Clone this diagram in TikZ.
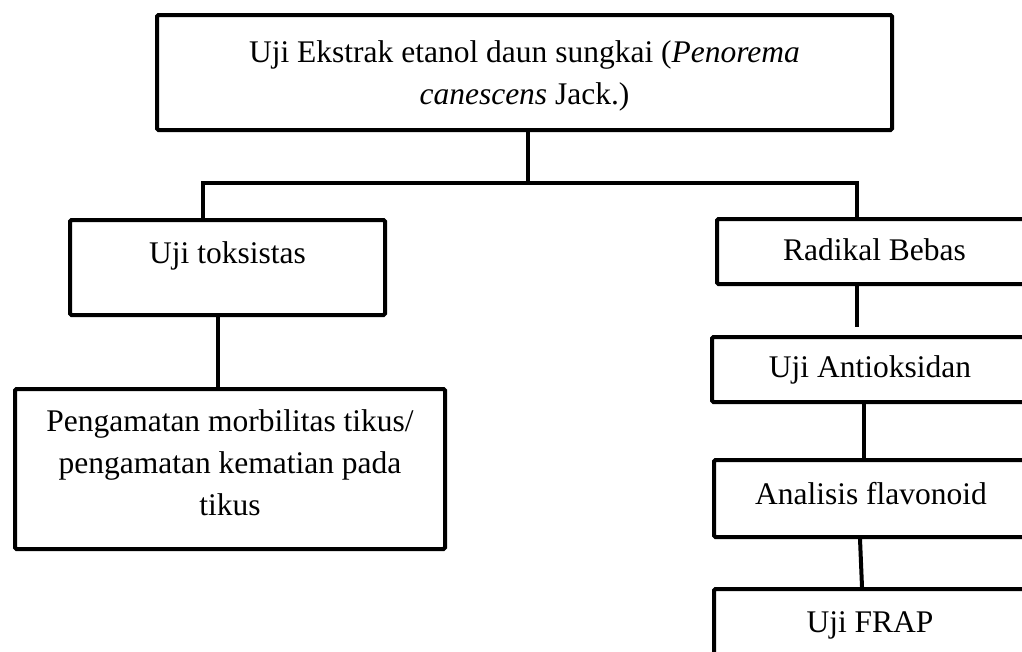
\documentclass[tikz,border=0pt]{standalone}
\usepackage{fontspec}
\setmainfont{Liberation Serif}
\newcommand\bxt[4]{\parbox[t][#2][t]{#1}{\centering\rule{0pt}{#3}#4}}
\begin{document}
\begin{tikzpicture}[x=1pt,y=-1pt,
  box/.style={draw, line width=4pt, rounded corners=1.5pt, inner sep=0pt, anchor=north west,
    font=\fontsize{31.5}{42}\selectfont},
  conn/.style={line width=4pt, line join=miter}]
\useasboundingbox (0,0) rectangle (1022,651);
\clip (0,0) rectangle (1022,651);
\node[box] (top) at (155,13) {\bxt{735pt}{115pt}{47pt}{Uji Ekstrak etanol daun sungkai (\textit{Penorema}\\ \textit{canescens} Jack.)}};
\node[box] (tok) at (68,218) {\bxt{315pt}{95pt}{43pt}{Uji toksistas}};
\node[box] (pen) at (13,387) {\bxt{430pt}{160pt}{42pt}{Pengamatan morbilitas tikus/\\ pengamatan kematian pada\\ tikus}};
\node[box] (rad) at (715,217) {\bxt{315pt}{65pt}{41pt}{Radikal Bebas}};
\node[box] (anti) at (710,335) {\bxt{316pt}{65pt}{40pt}{Uji Antioksidan}};
\node[box] (ana) at (712,458) {\bxt{314pt}{77pt}{44pt}{Analisis flavonoid}};
\node[box] (frap) at (712,587) {\bxt{312pt}{85pt}{43pt}{Uji FRAP}};
\coordinate (jl) at (203,183);
\coordinate (jc) at (528,183);
\coordinate (jr) at (857,183);
\coordinate (gap) at (857,327);
\draw[conn] (top.south -| jc) -- (jc);
\draw[conn] (tok.north -| jl) -- (jl) -- (jr) -- (rad.north -| jr);
\draw[conn] ([xshift=-9.5pt]tok.south) -- ([xshift=-9.5pt]tok.south |- pen.north);
\draw[conn] (rad.south -| gap) -- (gap);
\draw[conn] ([xshift=-6pt]anti.south) -- ([xshift=-6pt]anti.south |- ana.north);
\draw[conn] ([xshift=-11pt]ana.south) -- ([xshift=-8pt]frap.north);
\end{tikzpicture}
\end{document}
